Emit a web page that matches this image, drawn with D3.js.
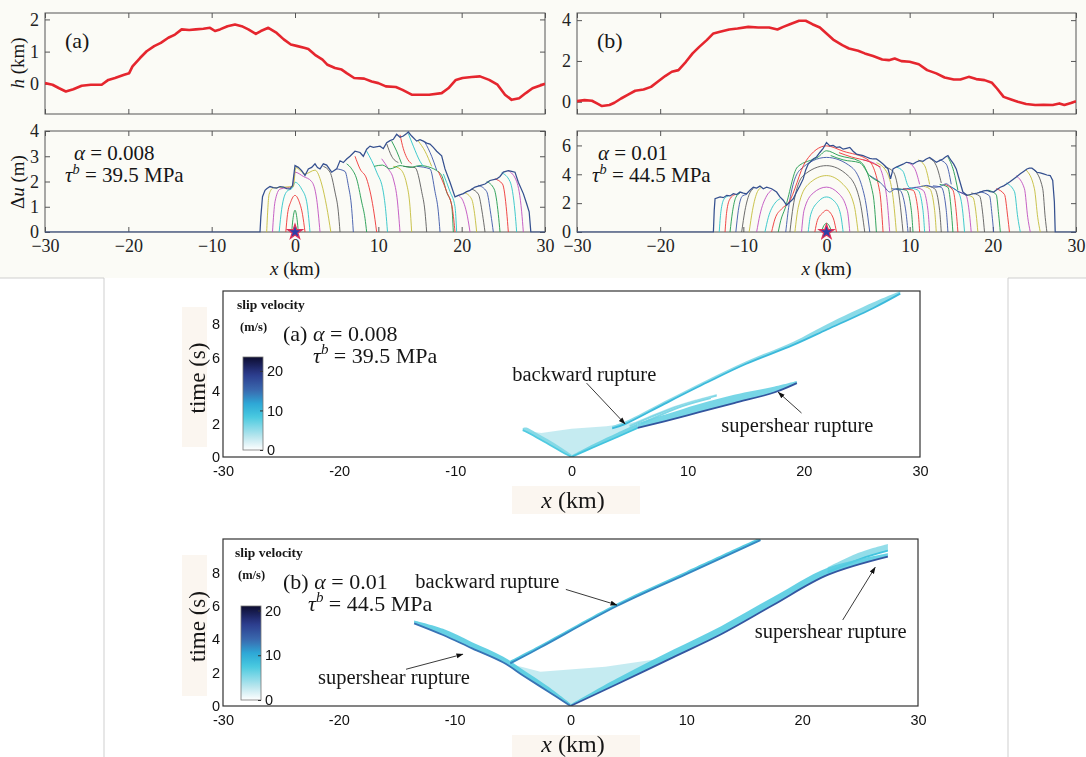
<!DOCTYPE html>
<html><head><meta charset="utf-8">
<script src="https://cdn.jsdelivr.net/npm/d3@7"></script>
<style>body{margin:0;background:#fff}svg{display:block}</style>
</head><body>
<svg id="c" width="1086" height="757"></svg>
<script>
// ---------------- DATA ----------------
const xTicksTop = [-30,-20,-10,0,10,20,30];
const hTicksA = [0,1,2];
const duTicksA = [0,1,2,3,4];
const hTicksB = [0,2,4];
const duTicksB = [0,2,4,6];
const tTicks = [0,2,4,6,8];
const xTicksMid = [-30,-20,-10,0,10,20,30];
const cbTicks = [0,10,20];

// topography h (km) vs x (km)
const hA = [[-30,0.02],[-29.1,-0.03],[-28.3,-0.14],[-27.5,-0.24],[-26.6,-0.17],[-25.6,-0.06],[-24.5,-0.03],[-23.2,-0.03],[-22.4,0.12],[-21.6,0.18],[-20.5,0.28],[-19.9,0.33],[-19.5,0.54],[-18.6,0.8],[-17.8,1.01],[-16.9,1.17],[-16.1,1.27],[-15.2,1.43],[-14.4,1.53],[-13.6,1.69],[-12.7,1.67],[-11.9,1.69],[-11,1.71],[-10.2,1.74],[-9.6,1.64],[-9,1.69],[-8.1,1.79],[-7.2,1.84],[-6.4,1.79],[-5.6,1.69],[-4.7,1.55],[-4.1,1.64],[-3.2,1.74],[-2.2,1.58],[-1.35,1.38],[-0.5,1.22],[0.3,1.17],[1.2,1.11],[1.6,1.08],[2.4,0.9],[3.3,0.75],[3.9,0.59],[4.8,0.49],[5.6,0.44],[6.2,0.33],[7.1,0.18],[8.3,0.16],[9.2,0.07],[10,0.02],[10.9,-0.08],[12.1,-0.1],[12.9,-0.19],[14,-0.34],[15.1,-0.34],[16.1,-0.34],[17.6,-0.29],[18.4,-0.14],[19.3,0.12],[20.1,0.18],[21.2,0.21],[22.2,0.23],[23.3,0.12],[24.3,-0.03],[25.2,-0.34],[26,-0.5],[26.9,-0.45],[27.7,-0.29],[28.5,-0.14],[30,0]];
const hB = [[-30,0.03],[-29.1,0.08],[-28.2,0.05],[-27.6,-0.08],[-27,-0.21],[-26.1,-0.16],[-25.5,-0.05],[-24.7,0.16],[-23.8,0.36],[-23,0.54],[-22,0.6],[-21.1,0.73],[-20.3,0.98],[-19.4,1.26],[-18.6,1.47],[-17.8,1.55],[-16.9,1.96],[-16.1,2.37],[-15.3,2.69],[-14.4,3.02],[-13.6,3.35],[-12.8,3.43],[-11.7,3.54],[-10.7,3.59],[-9.4,3.67],[-8.2,3.64],[-6.9,3.64],[-5.9,3.54],[-5.2,3.67],[-4.4,3.8],[-3.3,3.97],[-2.5,3.97],[-1.7,3.8],[-0.8,3.64],[0,3.35],[0.8,3.05],[1.9,2.78],[2.7,2.61],[3.8,2.5],[4.6,2.37],[5.6,2.24],[6.7,2.07],[7.5,2.04],[8.2,2.12],[9,1.99],[10,1.96],[11.1,1.84],[12.1,1.55],[13.2,1.39],[14.2,1.19],[15.3,1.09],[16.1,1.09],[17.1,1.22],[18,1.11],[19,1.06],[19.9,0.93],[20.5,0.65],[21.3,0.24],[22.2,0.11],[23,0],[24,-0.11],[25.1,-0.16],[26.1,-0.15],[27.2,-0.16],[28,-0.08],[28.6,-0.16],[29.5,-0.05],[30,0.03]];

// final slip Δu (m)
const slipFinalA = [[-30,0],[-4.2,0],[-4.1,0.6],[-3.9,1.4],[-3.6,1.65],[-3.4,1.71],[-3,1.8],[-2.6,1.76],[-2.2,1.74],[-1.8,1.8],[-1.4,1.78],[-1,1.72],[-0.6,1.71],[-0.3,1.84],[0,2.63],[0.4,2.56],[0.8,2.43],[1.2,2.24],[1.6,2.5],[2,2.56],[2.4,2.7],[2.7,2.55],[3,2.5],[3.4,2.7],[3.8,2.65],[4.4,2.37],[5,2.5],[5.4,2.82],[5.8,2.75],[6.2,2.89],[6.6,3.0],[7.2,3.2],[7.8,3.15],[8.2,3.0],[8.6,3.28],[9,3.4],[9.4,3.35],[10.2,3.4],[10.6,3.3],[11,3.54],[11.4,3.62],[11.8,3.67],[12.2,3.87],[12.6,3.75],[13,3.8],[13.4,3.9],[13.6,3.96],[14,3.8],[14.6,3.6],[15,3.66],[15.4,3.6],[15.8,3.52],[16.2,3.48],[16.6,3.35],[17,3.2],[17.6,3.02],[18,2.5],[18.6,1.97],[19.2,1.39],[19.6,1.45],[20.2,1.52],[20.6,1.6],[21,1.65],[21.6,1.78],[22.2,1.84],[22.8,1.9],[23.4,2.04],[24.2,2.1],[24.6,2.2],[25,2.37],[25.6,2.43],[26,2.4],[26.4,2.37],[26.8,1.97],[27.4,1.52],[27.8,1.12],[28.1,0.8],[28.3,0],[30,0]];
const slipFinalB = [[-30,0],[-13.6,0],[-13.5,1.5],[-13.4,2.31],[-12.8,2.43],[-12.4,2.38],[-12,2.54],[-11.6,2.5],[-11.2,2.65],[-10.8,2.6],[-10.4,2.77],[-10,2.7],[-9.6,2.65],[-9.2,2.9],[-8.8,3.1],[-8.4,3.05],[-8,3.18],[-7.6,3.0],[-7.2,3.1],[-6.6,3.0],[-6,2.77],[-5.6,2.43],[-5.2,2.2],[-4.8,1.85],[-4.4,2.08],[-4,2.3],[-3.6,2.77],[-3.2,3.2],[-2.8,3.68],[-2.5,4.3],[-2.2,4.71],[-1.6,5.06],[-1.2,5.2],[-0.8,5.51],[-0.4,5.8],[0,6.2],[0.4,5.97],[0.8,6.0],[1.2,5.86],[1.6,5.9],[2,5.74],[2.4,5.8],[2.8,5.86],[3.2,5.6],[3.6,5.4],[4,5.35],[4.4,5.29],[4.8,5.2],[5.2,5.1],[5.6,5.06],[6,5.06],[6.4,4.9],[6.8,4.71],[7.4,4.37],[7.7,3.68],[8,4.37],[8.4,4.5],[8.8,4.6],[9.2,4.7],[9.6,4.83],[10,4.8],[10.4,4.71],[10.8,4.85],[11.2,4.94],[11.6,4.9],[12,5.06],[12.4,5.17],[12.8,5.0],[13.2,4.83],[13.6,4.95],[14,5.06],[14.3,5.2],[14.6,5.29],[15,4.94],[15.3,4.7],[15.6,4.37],[16,3.57],[16.4,2.77],[16.9,2.54],[17.3,2.6],[17.7,2.65],[18.1,2.7],[18.5,2.77],[18.9,2.85],[19.3,2.88],[19.7,2.8],[20.1,2.77],[20.5,2.95],[20.9,3.1],[21.3,3.2],[21.7,3.34],[22.1,3.5],[22.5,3.68],[22.9,3.85],[23.3,4.03],[23.7,4.2],[24.1,4.37],[24.4,4.42],[24.7,4.42],[25,4.3],[25.3,4.14],[25.7,4.1],[26.1,4.03],[26.5,3.95],[26.9,3.91],[27.2,3.57],[27.4,2.08],[27.5,0],[30,0]];

// slip snapshots (visible parts), in time order
const slipSnapA = [
 [[-0.4,0],[-0.25,0.5],[0,0.86],[0.25,0.5],[0.4,0]],
 [[-1.1,0],[-0.9,0.7],[-0.5,1.2],[0,1.45],[0.5,1.2],[0.9,0.7],[1.2,0]],
 [[-1.9,0],[-1.6,0.9],[-1,1.6],[-0.3,1.75],[0,1.97],[0.8,1.7],[1.4,1.2],[1.8,0]],
 [[-2.7,0],[-2.4,1.2],[-1.8,1.7],[-0.3,1.8],[0,2.37],[1,2.2],[2,2.0],[2.6,1.3],[3.0,0]],
 [[-3.4,0],[-3.1,1.5],[-2.6,1.75],[-0.2,1.8],[0.1,2.55],[1.2,2.3],[2.4,2.45],[3.2,1.9],[3.8,1.0],[4.3,0]],
 [[3.4,2.6],[4.2,2.37],[4.8,1.58],[5.2,0.8],[5.4,0]],
 [[5.0,2.5],[6.0,2.4],[6.4,1.84],[6.8,0.93],[7.0,0]],
 [[6.2,2.7],[6.8,2.5],[7.4,2.1],[8.0,1.19],[8.4,0.54],[8.6,0]],
 [[7.2,3.0],[7.8,2.5],[8.6,2.1],[9.4,0.93],[9.8,0]],
 [[8.6,3.2],[9.8,2.37],[10.6,1.58],[10.9,0.8],[11.1,0]],
 [[10.4,2.9],[11.2,2.5],[11.8,2.1],[12.3,1.19],[12.6,0]],
 [[11.8,2.6],[12.6,2.5],[13.4,1.9],[13.8,1.0],[14.0,0]],
 [[13.0,2.6],[14.4,2.55],[15.2,1.6],[15.6,0.8],[15.8,0]],
 [[14.6,2.6],[16.2,2.5],[16.8,1.6],[17.2,0.8],[17.4,0]],
 [[9.5,2.6],[10.5,2.65],[11.4,2.5],[12.6,2.63],[13.8,2.56],[15,2.63],[16.2,2.56],[17,2.43],[17.6,2.24],[18.2,1.58],[18.8,1.06],[19.0,0]],
 [[17.2,2.4],[18.2,1.6],[18.9,0.9],[19.2,0]],
 [[17.8,2.3],[18.6,1.6],[19.2,1.0],[19.4,0]],
 [[19.6,1.45],[20.2,1.2],[20.7,0.6],[21.0,0]],
 [[20.4,1.55],[21.2,1.3],[21.6,0.6],[21.8,0]],
 [[21.2,1.7],[22.0,1.5],[22.5,0.7],[22.8,0]],
 [[22.0,1.85],[23.0,1.6],[23.5,0.7],[23.8,0]],
 [[23.0,2.0],[23.9,1.7],[24.4,0.7],[24.6,0]],
 [[24.0,2.1],[24.9,1.9],[25.4,0.8],[25.6,0]],
 [[24.8,2.35],[25.8,2.0],[26.4,0.8],[26.6,0]],
 [[25.6,2.43],[26.6,2.0],[27.2,0.8],[27.4,0]],
 [[14.8,3.6],[15.6,3.2],[16.4,2.6]],
 [[11.0,3.5],[11.6,3.0],[12.4,2.75]],
 [[15.6,3.55],[16.4,3.0],[17.0,2.45]],
 [[11.6,3.6],[12.2,3.2],[12.8,2.7]],
 [[12.6,3.85],[13.0,3.3],[13.4,2.95],[14.0,2.7]],
 [[13.6,3.9],[14.2,3.4],[15.0,2.8],[15.4,2.6]]
];
const slipSnapB = [
 [[-0.6,0],[-0.4,0.35],[0,0.6],[0.4,0.35],[0.6,0]],
 [[-1.4,0],[-1.1,0.8],[-0.5,1.3],[0,1.51],[0.5,1.3],[0.9,0.8],[1.2,0]],
 [[-2.2,0],[-1.9,1.2],[-1,2.1],[0,2.43],[1,2.1],[1.7,1.2],[2.0,0]],
 [[-3.0,0],[-2.7,1.5],[-1.6,2.7],[0,3.11],[1.4,2.7],[2.5,1.5],[2.8,0]],
 [[-3.8,0],[-3.4,1.7],[-2.2,3.3],[0,3.91],[2,3.3],[3.3,1.9],[3.8,0]],
 [[-4.4,0],[-4.0,1.8],[-2.8,3.9],[0,4.6],[2.6,3.9],[4.0,2.2],[4.6,0]],
 [[-4.9,0],[-4.5,1.9],[-3.2,4.3],[0,5.17],[3,4.5],[4.6,2.4],[5.2,0]],
 [[-5.8,0],[-5.5,0.8],[-5.0,1.6],[-3.5,4.5],[-1,5.2],[0,5.63],[1.5,5.3],[4,4.9],[5.6,2.6],[6.0,0]],
 [[-6.6,0],[-6.2,0.9],[-5.4,1.6],[-4.6,2.0],[-2.5,4.9],[0,5.97],[2,5.6],[5,5.0],[6.4,2.8],[6.8,0]],
 [[-7.4,0],[-7.0,1.0],[-6.2,2.0],[-5.6,2.3]],
 [[-8.4,0],[-8.0,1.2],[-7.2,2.5],[-6.6,2.9]],
 [[-9.3,0],[-8.9,1.5],[-8.3,2.8],[-7.8,3.1]],
 [[-10.2,0],[-9.8,1.5],[-9.3,2.6],[-8.8,3.0]],
 [[-10.9,0],[-10.6,1.5],[-10.1,2.5],[-9.6,2.6]],
 [[-11.6,0],[-11.3,1.4],[-10.9,2.4],[-10.4,2.7]],
 [[-12.2,0],[-12.0,1.4],[-11.6,2.3],[-11.0,2.6]],
 [[-12.9,0],[-12.7,1.4],[-12.3,2.3],[-11.8,2.5]],
 [[4.4,5.0],[6.2,4.6],[7.2,2.6],[7.6,0]],
 [[6.0,4.8],[7.2,4.2],[8.0,2.4],[8.4,0]],
 [[7.0,4.5],[8.0,4.2],[8.8,2.2],[9.2,0]],
 [[7.8,3.0],[8.8,2.9],[9.5,1.6],[9.8,0]],
 [[8.4,3.0],[9.6,2.9],[10.2,1.5],[10.4,0]],
 [[9.2,3.0],[10.4,2.9],[11.0,1.5],[11.2,0]],
 [[10.0,3.05],[11.0,2.9],[11.6,1.5],[11.8,0]],
 [[10.6,3.1],[11.6,2.9],[12.2,1.5],[12.4,0]],
 [[11.4,3.2],[12.4,3.0],[13.0,1.5],[13.2,0]],
 [[12.0,3.2],[13.0,3.0],[13.6,1.5],[13.8,0]],
 [[12.8,3.2],[13.8,3.1],[14.4,1.5],[14.6,0]],
 [[13.6,3.3],[14.6,3.1],[15.0,1.5],[15.2,0]],
 [[14.2,3.3],[15.2,2.9],[15.6,1.4],[15.8,0]],
 [[15.0,3.1],[15.9,2.7],[16.4,1.3],[16.6,0]],
 [[15.8,2.8],[16.8,2.5],[17.2,1.2],[17.4,0]],
 [[16.6,2.6],[17.6,2.4],[18.0,1.2],[18.2,0]],
 [[17.4,2.7],[18.4,2.5],[18.8,1.2],[19.0,0]],
 [[18.4,2.8],[19.6,2.5],[19.9,1.2],[20.1,0]],
 [[19.4,2.9],[20.4,2.6],[20.7,1.2],[20.9,0]],
 [[20.4,3.0],[21.4,2.6],[21.8,1.0],[22.0,0]],
 [[21.6,3.4],[22.6,2.8],[23.0,1.0],[23.3,0]],
 [[22.8,3.9],[23.8,3.0],[24.2,1.0],[24.5,0]],
 [[24.0,4.3],[25.0,3.0],[25.4,1.0],[25.7,0]],
 [[25.0,4.3],[26.0,3.0],[26.3,1.0],[26.5,0]],
 [[5.2,3.91],[5.8,3.7],[6.4,3.46],[7.0,3.1],[7.6,2.77],[8.0,2.9],[8.4,3.0],[9.0,2.95],[9.6,3.0],[10.2,3.05],[10.8,3.1],[11.4,3.15],[12,3.23],[12.6,3.15],[13.2,3.1],[13.8,3.2],[14.4,3.34],[14.8,3.2],[15.3,3.0],[16,2.77],[16.9,2.54]],
 [[0.5,5.3],[2,5.0],[4,4.8],[5.2,3.9],[6.4,3.46]],
 [[1.5,5.5],[3,5.2],[5,4.9],[6.5,4.5]],
 [[8.4,4.5],[9.2,4.2],[9.8,3.2],[10.2,3.0]],
 [[9.8,4.8],[10.6,4.4],[11.2,3.3]],
 [[11.0,5.0],[11.8,4.6],[12.4,3.3]],
 [[12.4,5.1],[13.2,4.6],[13.8,3.4]],
 [[13.6,5.0],[14.4,4.7],[15.0,3.3]],
 [[14.6,5.2],[15.3,4.2],[15.8,2.9]]
];

// rupture fronts in (x km, t s): [x, tLow, tHigh]
const ruptA_left  = [[0,0,0.15],[-1,0.38,0.62],[-2,0.78,1.05],[-3,1.18,1.45],[-3.9,1.52,1.78],[-4.2,1.62,1.74]];
const ruptA_fan   = [[0,0],[-3.9,1.58],[-2.6,1.45],[0,1.7],[3,1.85],[5.7,2.12],[5.7,1.75]];
const ruptA_sub   = [[0,0,0.1],[2,0.62,0.82],[4,1.22,1.48],[5.7,1.75,2.02]];
const ruptA_super = [[5.7,1.75,2.05],[8,2.15,2.55],[11,2.7,3.2],[14,3.25,3.75],[17.5,3.9,4.25],[19.4,4.45,4.58]];
const ruptA_long  = [[3.5,1.72,1.86],[4.65,2.0,2.15],[8,3.2,3.36],[11.7,4.5,4.66],[15,5.6,5.76],[19.1,6.75,6.95],[22,7.68,8.0],[26,8.98,9.32],[28.3,9.84,10]];
const ruptA_str1  = [[5,1.85,1.96],[9,3.0,3.1],[12.5,3.7,3.8]];
const ruptA_str2  = [[6,2.0,2.08],[9.5,3.05,3.13],[12,3.55,3.63]];
const ruptA_vel   = {left:[6,8], sub:[7,9], sup:[7,17], long:[6,10], str:[4,6]};

const ruptB_left  = [[0,0,0.15],[-2,0.9,1.2],[-4,1.78,2.12],[-5.8,2.6,2.95],[-8.5,3.45,3.82],[-11,4.25,4.62],[-13.5,4.95,5.12]];
const ruptB_fan   = [[0,0],[-5.8,2.6],[-4,2.3],[-2.6,2.05],[3,2.35],[8.9,2.95]];
const ruptB_main  = [[0,0,0.1],[4,1.3,1.65],[8.9,2.93,3.38],[13,4.3,4.78],[17.5,6.05,6.52],[22.2,7.85,8.28],[27.4,8.95,9.15]];
const ruptB_upper = [[22.2,8.0,8.3],[25,8.8,9.2],[27.4,9.3,9.7]];
const ruptB_back  = [[-5.2,2.55,2.72],[-2.6,3.5,3.66],[4.05,6.0,6.16],[10,7.9,8.06],[16.4,9.93,10.1]];
const ruptB_vel   = {left:[7,13], main:[7,15], upper:[5,8], back:[8,12]};

// colorbar domains (m/s)
const cbDomA = [0,23.5];
const cbDomB = [0,21];

// ---------------- DRAWING ----------------
const SERIF = '"Liberation Serif","DejaVu Serif",serif';
const SANS = '"Liberation Sans",Arial,sans-serif';
const MCOL = ['#1f9a4e','#ee3434','#2cc4c8','#c050c0','#c4bd3c','#5c5c5c','#3c56a8'];
const svg = d3.select('#c');
const defs = svg.append('defs');
defs.append('filter').attr('id','soft').append('feGaussianBlur').attr('stdDeviation',0.7);
const mk = defs.append('marker').attr('id','arr').attr('viewBox','0 0 10 10').attr('refX',9).attr('refY',5)
  .attr('markerWidth',7).attr('markerHeight',7).attr('orient','auto-start-reverse').attr('markerUnits','userSpaceOnUse');
mk.append('path').attr('d','M0,1.5 L10,5 L0,8.5 Z').attr('fill','#111');

// backgrounds
svg.append('rect').attr('width',1086).attr('height',757).attr('fill','#ffffff');
svg.append('rect').attr('width',1086).attr('height',278).attr('fill','#fbfbf6');
svg.append('rect').attr('x',104).attr('y',278).attr('width',904).attr('height',479).attr('fill','#ffffff');
[[0,278,104,278],[104,278,104,757],[1008,278,1086,278],[1008,278,1008,757]].forEach(l=>{
  svg.append('line').attr('x1',l[0]).attr('y1',l[1]).attr('x2',l[2]).attr('y2',l[3]).attr('stroke','#cfcfcf').attr('stroke-width',1);
});

function rich(g, x, y, parts, size, opts={}) {
  const t = g.append('text').attr('x',x).attr('y',y).attr('font-family',opts.family||SERIF)
    .attr('font-size',size).attr('fill','#161616');
  if (opts.anchor) t.attr('text-anchor',opts.anchor);
  if (opts.weight) t.attr('font-weight',opts.weight);
  if (opts.rotate) t.attr('transform',`rotate(-90,${x},${y})`);
  let shifted = 0;
  parts.forEach(p => {
    const s = t.append('tspan').text(p[0]);
    const st = p[1]||'';
    if (st.includes('i')) s.attr('font-style','italic');
    if (st.includes('^')) { s.attr('font-size',size*0.68).attr('dy',-size*0.4); shifted = size*0.4; }
    else if (shifted) { s.attr('dy',shifted); shifted = 0; }
  });
  return t;
}

let clipId = 0;
function clip(x0,y0,x1,y1){
  const id = 'cp'+(clipId++);
  defs.append('clipPath').attr('id',id).append('rect').attr('x',x0).attr('y',y0).attr('width',x1-x0).attr('height',y1-y0);
  return `url(#${id})`;
}

function drawTop(o){
  const g = svg.append('g');
  const x = d3.scaleLinear().domain([-30,30]).range([o.x0,o.x1]);
  const yh = d3.scaleLinear().domain(o.hDom).range([114,13]);
  const yu = d3.scaleLinear().domain(o.uDom).range([232,131]);
  const none = () => '';
  [[yh,o.hTicks,13,114,false],[yu,o.uTicks,131,232,true]].forEach(([ys,yt,top,bot,lab])=>{
    const a = g.append('g');
    a.append('g').attr('transform',`translate(0,${bot})`).call(d3.axisBottom(x).tickValues(xTicksTop).tickSize(-5).tickPadding(7).tickFormat(lab?d3.format('d'):none));
    a.append('g').attr('transform',`translate(0,${top})`).call(d3.axisTop(x).tickValues(xTicksTop).tickSize(-5).tickFormat(none));
    a.append('g').attr('transform',`translate(${o.x0},0)`).call(d3.axisLeft(ys).tickValues(yt).tickSize(-5).tickPadding(6).tickFormat(d3.format('d')));
    a.append('g').attr('transform',`translate(${o.x1},0)`).call(d3.axisRight(ys).tickValues(yt).tickSize(-5).tickFormat(none));
    a.selectAll('.domain').remove();
    a.selectAll('line').attr('stroke','#555');
    a.selectAll('text').attr('font-family',SERIF).attr('font-size',18).attr('fill','#222');
    a.selectAll('g').attr('font-family',null).attr('font-size',null);
    g.append('rect').attr('x',o.x0).attr('y',top).attr('width',o.x1-o.x0).attr('height',bot-top)
      .attr('fill','none').attr('stroke','#555').attr('stroke-width',1);
  });
  // h curve
  g.append('path').attr('clip-path',clip(o.x0,13,o.x1,114))
    .attr('d',d3.line().x(d=>x(d[0])).y(d=>yh(d[1]))(o.h))
    .attr('fill','none').attr('stroke','#e5262e').attr('stroke-width',2.6).attr('stroke-linejoin','round');
  // slip snapshots
  const cu = g.append('g').attr('clip-path',clip(o.x0,131,o.x1,232.5));
  const ln = d3.line().x(d=>x(d[0])).y(d=>yu(d[1])).curve(d3.curveMonotoneX);
  o.snaps.forEach((s,i)=>{
    cu.append('path').attr('d',ln(s)).attr('fill','none').attr('stroke',MCOL[i%7]).attr('stroke-width',1).attr('opacity',0.9);
  });
  cu.append('path').attr('d',d3.line().x(d=>x(d[0])).y(d=>yu(d[1]))(o.fin)).attr('fill','none')
    .attr('stroke','#35508f').attr('stroke-width',1.25);
  // hypocentre star
  g.append('path').attr('d',d3.symbol(d3.symbolStar).size(70)())
    .attr('transform',`translate(${x(0)},${yu(0)})`).attr('fill','#2c3fa8').attr('stroke','#e0305a').attr('stroke-width',1.2);
  // labels
  rich(g, o.x0+20, 48, [[o.tag,'']], 22);
  rich(g, o.aX, 160, [['α','i'],[' = '+o.alpha,'']], 21);
  rich(g, o.tX, 182, [['τ','i'],['b','i^'],[' = '+o.tau+' MPa','']], 21);
  rich(g, (o.x0+o.x1)/2, 275, [['x','i'],[' (km)','']], 19, {anchor:'middle'});
  if (o.ylab){
    rich(g, 24, 63, [['h','i'],[' (km)','']], 19, {anchor:'middle', rotate:true});
    rich(g, 24, 182, [['Δ',''],['u','i'],[' (m)','']], 19, {anchor:'middle', rotate:true});
  }
}

drawTop({x0:45,x1:545,hDom:[-0.94,2.2],uDom:[0,4],hTicks:hTicksA,uTicks:duTicksA,h:hA,fin:slipFinalA,snaps:slipSnapA,
  tag:'(a)',alpha:'0.008',tau:'39.5',aX:74,tX:65,ylab:true});
drawTop({x0:577,x1:1076,hDom:[-0.6,4.35],hTicks:hTicksB,uDom:[0,7],uTicks:duTicksB,h:hB,fin:slipFinalB,snaps:slipSnapB,
  tag:'(b)',alpha:'0.01',tau:'44.5',aX:598,tX:592,ylab:false});

// ------------- middle panels -------------
const colStops = [0,3,8,11,14,18,22];
const colCols  = ['#ffffff','#bde7ee','#45c8df','#2ea7d6','#3a6bb0','#2b3a8b','#0c0c30'];
function vcol(dom){ const f = dom[1]/22; return d3.scaleLinear().domain(colStops.map(v=>v*f)).range(colCols).clamp(true); }

function drawMid(o){
  const g = svg.append('g');
  const x = d3.scaleLinear().domain([-30,30]).range([o.x0,o.x1]);
  const y = d3.scaleLinear().domain([0,10]).range([o.yb,o.yt]);
  const col = vcol(o.cbDom);
  // label background patches
  g.append('rect').attr('x',182).attr('y',o.yt+16).attr('width',25).attr('height',o.yb-o.yt-26).attr('fill','#fbf6f0');
  g.append('rect').attr('x',512).attr('y',o.yb+29).attr('width',128).attr('height',28).attr('fill','#fbf6f0');
  // bands
  const pg = g.append('g').attr('clip-path',clip(o.x0,o.yt,o.x1,o.yb)).attr('filter','url(#soft)');
  const area = d3.area().x(d=>x(d[0])).y0(d=>y(d[1])).y1(d=>y(d[2])).curve(d3.curveCatmullRom);
  const edge = d3.line().x(d=>x(d[0])).y(d=>y(d[1])).curve(d3.curveCatmullRom);
  const poly = d3.line().x(d=>x(d[0])).y(d=>y(d[1]));
  o.fans.forEach(f=> pg.append('path').attr('d',poly(f)+'Z').attr('fill',col(o.cbDom[1]*0.14)).attr('opacity',0.85));
  o.bands.forEach(([pts,v])=>{
    pg.append('path').attr('d',area(pts)).attr('fill',col(v[0])).attr('opacity',0.9);
    pg.append('path').attr('d',edge(pts)).attr('fill','none').attr('stroke',col(v[1])).attr('stroke-width',1.8);
  });
  // frame and axes
  g.append('rect').attr('x',o.x0).attr('y',o.yt).attr('width',o.x1-o.x0).attr('height',o.yb-o.yt)
    .attr('fill','none').attr('stroke','#333').attr('stroke-width',1.2);
  const ax = g.append('g').attr('transform',`translate(0,${o.yb})`).call(d3.axisBottom(x).tickValues(xTicksMid).tickSize(0).tickPadding(9).tickFormat(d=>String(d)));
  const ay = g.append('g').attr('transform',`translate(${o.x0},0)`).call(d3.axisLeft(y).tickValues(tTicks).tickSize(0).tickPadding(3).tickFormat(d=>String(d)));
  [ax,ay].forEach(a=>{ a.select('.domain').remove(); a.attr('font-family',null).attr('font-size',null);
    a.selectAll('text').attr('font-family',SANS).attr('font-size',14.5).attr('fill','#111'); });
  // axis titles
  rich(g, 205, (o.yt+o.yb)/2+4, [['time (s)','']], 23, {anchor:'middle', rotate:true});
  rich(g, 573, o.yb+o.xlabDy, [['x','i'],[' (km)','']], 24, {anchor:'middle'});
  // colorbar
  const cb = d3.scaleLinear().domain(o.cbDom).range([o.cbB,o.cbT]);
  const gid = 'grad'+o.tag;
  const lg = defs.append('linearGradient').attr('id',gid).attr('x1',0).attr('y1',1).attr('x2',0).attr('y2',0);
  d3.range(0,1.0001,0.05).forEach(f=> lg.append('stop').attr('offset',f).attr('stop-color',col(o.cbDom[0]+f*(o.cbDom[1]-o.cbDom[0]))));
  g.append('rect').attr('x',o.cbX).attr('y',o.cbT).attr('width',20).attr('height',o.cbB-o.cbT).attr('fill',`url(#${gid})`)
    .attr('stroke','#777').attr('stroke-width',0.8);
  const ac = g.append('g').attr('transform',`translate(${o.cbX+20},0)`).call(d3.axisRight(cb).tickValues(cbTicks).tickSize(-3).tickPadding(4).tickFormat(d=>String(d)));
  ac.select('.domain').remove(); ac.attr('font-family',null).attr('font-size',null);
  ac.selectAll('line').attr('stroke','#333');
  ac.selectAll('text').attr('font-family',SANS).attr('font-size',14.5).attr('fill','#111');
  rich(g, o.cbX-6, o.yt+18, [['slip velocity','']], 13.5, {weight:'bold'});
  rich(g, o.cbX-3, o.yt+40, [['(m/s)','']], 12.5, {weight:'bold'});
  // panel text
  rich(g, 283, o.yt+50, [['('+o.tag+') ',''],['α','i'],[' = '+o.alpha,'']], 22);
  rich(g, o.tauX, o.yt+72, [['τ','i'],['b','i^'],[' = '+o.tau+' MPa','']], 22);
  // annotations
  o.notes.forEach(n=>{
    rich(g, x(n.tx), y(n.ty), [[n.text,'']], 20.5);
    g.append('line').attr('x1',x(n.a[0])).attr('y1',y(n.a[1])).attr('x2',x(n.b[0])).attr('y2',y(n.b[1]))
      .attr('stroke','#222').attr('stroke-width',0.9).attr('marker-end','url(#arr)');
  });
}

drawMid({tag:'a',x0:223,x1:920,yt:291,yb:457,cbX:243,cbT:357,cbB:450,cbDom:cbDomA,alpha:'0.008',tau:'39.5',tauX:313,xlabDy:51,
  fans:[ruptA_fan],
  bands:[[ruptA_left,ruptA_vel.left],[ruptA_sub,ruptA_vel.sub],[ruptA_str1,ruptA_vel.str],[ruptA_str2,ruptA_vel.str],[ruptA_long,ruptA_vel.long],[ruptA_super,ruptA_vel.sup]],
  notes:[{text:'backward rupture',tx:-5.1,ty:4.55,a:[1.3,4.45],b:[4.6,2.0]},
         {text:'supershear rupture',tx:12.9,ty:1.5,a:[19.8,2.65],b:[17.8,3.9]}]});
drawMid({tag:'b',x0:223,x1:918,yt:539,yb:706,cbX:241,cbT:606,cbB:700,cbDom:cbDomB,alpha:'0.01',tau:'44.5',tauX:308,xlabDy:46,
  fans:[ruptB_fan],
  bands:[[ruptB_left,ruptB_vel.left],[ruptB_upper,ruptB_vel.upper],[ruptB_main,ruptB_vel.main],[ruptB_back,ruptB_vel.back]],
  notes:[{text:'backward rupture',tx:-13.4,ty:7.05,a:[-0.4,6.98],b:[4.0,6.05]},
         {text:'supershear rupture',tx:15.9,ty:4.05,a:[23.5,5.15],b:[26.3,8.3]},
         {text:'supershear rupture',tx:-21.8,ty:1.3,a:[-14.2,2.2],b:[-9.3,3.1]}]});
</script>
</body></html>
